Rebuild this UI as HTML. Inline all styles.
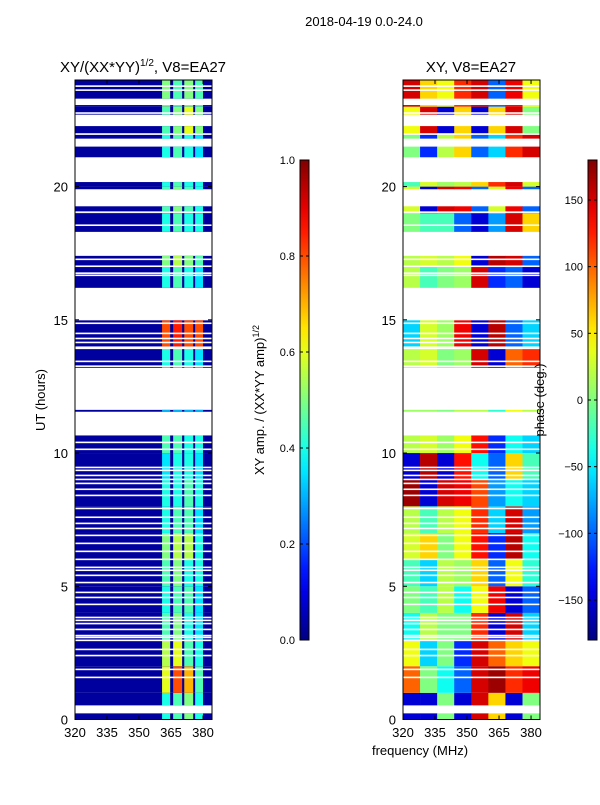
<!DOCTYPE html>
<html><head><meta charset="utf-8"><style>
body{margin:0;background:#fff;width:600px;height:800px;overflow:hidden;font-family:"Liberation Sans",sans-serif}
svg text{font-family:"Liberation Sans",sans-serif;fill:#000}
</style></head><body>
<svg id="fig" width="600" height="800"></svg>
<script>
// ---- data ----
const dataBands=[[0,0.23],[0.53,10.66],[11.55,11.62],[13.2,14.98],[16.2,17.4],[18.3,19.26],[19.9,20.17],[21.1,21.5],[21.8,22.27],[22.7,23.06],[23.3,24]];
const gapLines=[10.40,10.14,9.46,9.35,9.16,9.01,8.86,8.64,8.41,7.92,7.59,7.36,7.17,6.91,6.61,6.31,6.01,5.71,5.60,5.41,5.14,4.77,4.58,4.32,3.83,3.72,3.60,3.38,3.15,3.08,2.97,2.63,2.40,1.88,1.58,23.77,23.62,22.76,21.97,19.04,18.55,17.27,17.01,16.75,16.67,14.87,14.49,14.3,14.15,13.97,13.93,13.44,13.26];
const stripes=[[360.8,364.6],[366,370.2],[371.2,375.4],[376.3,380]];
const ampBase=0.03;
const amp=[[.4,.45,.5,.4],[.6,.8,.7,.45],[.55,.6,.45,.4],[.45,.5,.4,.35],[.4,.45,.45,.35],[.45,.5,.4,.4],[.5,.55,.55,.4],[.4,.45,.45,.35],[.4,.4,.45,.4],[.35,.4,.4,.35],[.45,.45,.4,.4],[.3,.3,.3,.3],[.3,.3,.3,.3],[.4,.45,.4,.35],[.8,.85,.8,.8],[.4,.4,.4,.4],[.4,.45,.4,.35],[.5,.55,.5,.45],[.4,.45,.4,.4],[.45,.5,.45,.4],[.4,.45,.4,.4],[.4,.45,.4,.35],[.45,.5,.6,.5],[.5,.45,.5,.45]];
const phaseSegs=[320,328,336,344,352,360,368,376,384.2];
const phase=[[-150,-150,0,-150,150,60,-150,0],[100,0,-40,-100,150,170,120,140],[40,-60,0,-120,150,100,60,40],[-40,20,0,0,120,-150,150,-60],[0,-20,20,-40,40,140,-150,-100],[-20,-60,20,10,60,-100,40,-30],[30,60,0,40,130,-120,160,-40],[20,-20,20,40,120,-60,150,-80],[170,-150,150,140,110,-80,-40,-60],[-150,160,-150,130,-40,-100,60,-20],[20,30,10,40,130,-120,-40,-60],[10,10,0,20,20,-30,40,20],[0,0,0,0,0,0,0,0],[20,30,0,10,150,-150,100,120],[-60,30,10,140,-150,160,-100,-60],[0,0,0,0,0,0,0,0],[20,-20,0,10,150,-120,-100,-150],[20,30,20,40,-150,160,150,-100],[0,-20,-20,-100,-150,-80,150,60],[30,-150,150,140,-100,30,140,-100],[-20,30,10,20,60,120,150,30],[0,-120,20,60,-100,-60,120,150],[40,150,-150,60,-150,60,150,0],[150,60,40,120,150,-100,140,40]];
const yTicks=[0,5,10,15,20];
const xTicks=[320,335,350,365,380];
const ampTicks=[0,0.2,0.4,0.6,0.8,1.0];
const phTicks=[-150,-100,-50,0,50,100,150];
// ---- helpers ----
const NS="http://www.w3.org/2000/svg",svg=document.getElementById('fig');
function mk(t,a,p){const e=document.createElementNS(NS,t);for(const k in a)e.setAttribute(k,a[k]);(p||svg).appendChild(e);return e;}
function cl(v){return Math.max(0,Math.min(1,v));}
function jet(x){const r=cl(1.5-Math.abs(4*x-3)),g=cl(1.5-Math.abs(4*x-2)),b=cl(1.5-Math.abs(4*x-1));return `rgb(${Math.round(r*255)},${Math.round(g*255)},${Math.round(b*255)})`;}
const Y0=719.5,Y1=80,F0=320,F1=384.2;
const yS=h=>Y0-(h/24)*(Y0-Y1);
function xS(left){return f=>left+(f-F0)/(F1-F0)*137;}
const xL=xS(75),xR=xS(403);
function pieces(){const out=[];dataBands.forEach(b=>{let a=b[0];while(a<b[1]){const e=Math.min(b[1],Math.floor(a)+1);out.push([a,e,Math.floor(a)]);a=e;}});return out;}
// ---- left heatmap ----
const gL=mk('g',{});


pieces().forEach(p=>{
  const y0=yS(p[1]),y1=yS(p[0]);
  mk('rect',{x:xL(F0),y:y0,width:xL(F1)-xL(F0),height:y1-y0,fill:jet(ampBase)},gL);
  stripes.forEach((s,i)=>{
    const c=mk('rect',{x:xL(s[0]),y:y0,width:xL(s[1])-xL(s[0]),height:y1-y0,fill:jet(amp[p[2]][i])},gL);
    
    
  });
});
// ---- right heatmap ----
const gR=mk('g',{});


pieces().forEach(p=>{
  const y0=yS(p[1]),y1=yS(p[0]);
  for(let i=0;i<phaseSegs.length-1;i++){
    const c=mk('rect',{x:xR(phaseSegs[i]),y:y0,width:xR(phaseSegs[i+1])-xR(phaseSegs[i])+0.3,height:y1-y0,fill:jet((phase[p[2]][i]+180)/360)},gR);
    
    
  }
});
// gap lines
gapLines.forEach(h=>{[75,403].forEach(l=>{const g=mk('rect',{x:l,y:yS(h)-0.8,width:137,height:1.6,fill:'#fff'});});});
// ---- axes ----
function axes(left,xs,name,title){
  const f=mk('rect',{x:left,y:Y1,width:137,height:Y0-Y1,fill:'none',stroke:'#000','stroke-width':1});
  
  yTicks.forEach(v=>{const y=yS(v);
    mk('line',{x1:left,x2:left+4,y1:y,y2:y,stroke:'#000'});mk('line',{x1:left+137,x2:left+133,y1:y,y2:y,stroke:'#000'});
    const t=mk('text',{x:left-7,y:y+5,'text-anchor':'end','font-size':13});t.textContent=v;
    });
  xTicks.forEach(v=>{const x=xs(v);
    mk('line',{x1:x,x2:x,y1:Y0,y2:Y0-4,stroke:'#000'});mk('line',{x1:x,x2:x,y1:Y1,y2:Y1+4,stroke:'#000'});
    const t=mk('text',{x:x,y:737,'text-anchor':'middle','font-size':13});t.textContent=v;
    });
  const t=mk('text',{x:left+68,y:72,'text-anchor':'middle','font-size':15});t.innerHTML=title;
  
}
axes(75,xL,'left-axes','XY/(XX*YY)<tspan font-size="10" dy="-6">1/2</tspan><tspan dy="6">, V8=EA27</tspan>');
axes(403,xR,'right-axes','XY, V8=EA27');
// ---- colorbars ----
const defs=mk('defs',{});
const gr=mk('linearGradient',{id:'jg',x1:0,y1:1,x2:0,y2:0},defs);
for(let i=0;i<=20;i++)mk('stop',{offset:i/20,'stop-color':jet(i/20)},gr);
function cbar(x,ticks,map,name){
  const r=mk('rect',{x:x,y:160,width:9,height:480,fill:'url(#jg)',stroke:'#000','stroke-width':1});
  
  ticks.forEach(v=>{const y=640-map(v)*480;
    mk('line',{x1:x,x2:x+3,y1:y,y2:y,stroke:'#000'});mk('line',{x1:x+9,x2:x+6,y1:y,y2:y,stroke:'#000'});
    const t=mk('text',{x:x-5,y:y+4,'text-anchor':'end','font-size':11});t.textContent=(name==='amp-colorbar'?v.toFixed(1):(v<0?'\u2212'+(-v):v));
    });
}
cbar(300,ampTicks,v=>v,'amp-colorbar');
cbar(588,phTicks,v=>(v+180)/360,'phase-colorbar');
// ---- labels ----
function txt(s,a,name){const t=mk('text',a);t.innerHTML=s;return t;}
txt('2018-04-19 0.0-24.0',{x:364,y:26,'text-anchor':'middle','font-size':13},'figure-title');
txt('UT (hours)',{x:45,y:400,'text-anchor':'middle','font-size':13,transform:'rotate(-90 45 400)'},'y-axis-title');
txt('frequency (MHz)',{x:420,y:755,'text-anchor':'middle','font-size':13},'x-axis-title');
txt('XY amp. / (XX*YY amp)<tspan font-size="9" dy="-5">1/2</tspan>',{x:264,y:400,'text-anchor':'middle','font-size':13,transform:'rotate(-90 264 400)'},'amp-colorbar-title');
txt('phase (deg.)',{x:544,y:400,'text-anchor':'middle','font-size':13,transform:'rotate(-90 544 400)'},'phase-colorbar-title');
</script>
</body></html>
